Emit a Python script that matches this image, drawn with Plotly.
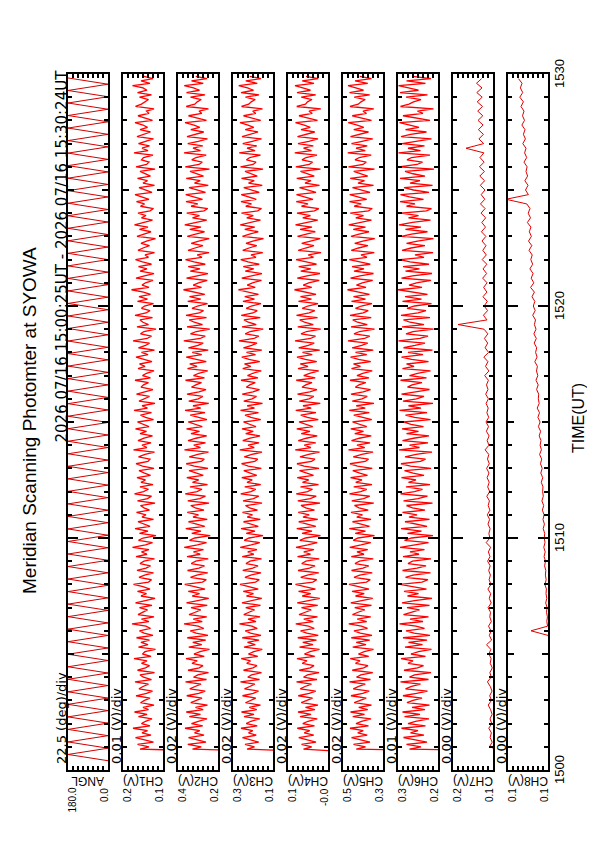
import plotly.graph_objects as go

# ---------------- data ----------------
T_START = 0.8   # minutes after 15:00 UT of first fast-channel sample (CH1-CH6)
DT = 0.1        # minutes between CH1-CH6 samples
T_START_SLOW = 0.8  # CH7, CH8 first sample
DT_SLOW = 0.2       # CH7, CH8 sample step

# scan angle turning points (minutes after 15:00) and angle (deg)
ANGLE_T = [0.40, 0.67, 0.94, 1.21, 1.48, 1.75, 2.02, 2.29, 2.56, 2.83, 3.10, 3.37, 3.64, 3.91,
           4.18, 4.45, 4.72, 4.99, 5.26, 5.53, 5.80, 6.07, 6.34, 6.61, 6.88, 7.15, 7.42, 7.69,
           7.96, 8.23, 8.50, 8.77, 9.04, 9.31, 9.58, 9.85, 10.12, 10.39, 10.66, 10.93, 11.20,
           11.47, 11.74, 12.01, 12.28, 12.55, 12.82, 13.09, 13.36, 13.63, 13.90, 14.17, 14.44,
           14.71, 14.98, 15.25, 15.52, 15.79, 16.06, 16.33, 16.60, 16.87, 17.14, 17.41, 17.68,
           17.95, 18.22, 18.49, 18.76, 19.03, 19.30, 19.57, 19.84, 20.11, 20.38, 20.65, 20.92,
           21.19, 21.46, 21.73, 22.00, 22.27, 22.54, 22.81, 23.08, 23.35, 23.62, 23.89, 24.16,
           24.43, 24.70, 24.97, 25.24, 25.51, 25.78, 26.05, 26.32, 26.59, 26.86, 27.13, 27.40,
           27.67, 27.94, 28.21, 28.48, 28.75, 29.02, 29.29, 29.56, 29.83]
ANGLE_DEG = [0, 180, 0, 180, 0, 180, 0, 180, 0, 180, 0, 180, 0, 180, 0, 180, 0, 180, 0, 180,
             0, 180, 0, 180, 0, 180, 0, 180, 0, 180, 0, 180, 0, 180, 0, 180, 0, 180, 0, 180,
             0, 180, 0, 180, 0, 180, 0, 180, 0, 180, 0, 180, 0, 180, 0, 180, 0, 180, 0, 180,
             0, 180, 0, 180, 0, 180, 0, 180, 0, 180, 0, 180, 0, 180, 0, 180, 0, 180, 0, 180,
             0, 180, 0, 180, 0, 180, 0, 180, 0, 180, 0, 180, 0, 180, 0, 180, 0, 180, 0, 180,
             0, 180, 0, 180, 0, 180, 0, 180, 0, 180]

# photometer channels, millivolts
CH1_MV = [0, 166, 148, 171, 139, 158, 175, 144, 162, 151, 180, 146, 163, 155, 142, 169, 152, 177, 149, 160,
          138, 165, 157, 146, 174, 153, 141, 168, 160, 149, 176, 143, 159, 166, 137, 171, 155, 147, 163, 152,
          178, 144, 161, 156, 135, 169, 150, 164, 147, 173, 140, 158, 167, 145, 154, 182, 148, 163, 138, 170,
          159, 151, 167, 142, 175, 156, 136, 164, 153, 171, 146, 160, 179, 149, 143, 168, 157, 139, 172, 154,
          145, 166, 158, 137, 174, 152, 163, 148, 181, 155, 141, 169, 160, 134, 167, 150, 176, 146, 157, 170,
          139, 162, 154, 173, 147, 158, 165, 136, 171, 151, 143, 177, 159, 149, 166, 140, 164, 155, 172, 145,
          157, 168, 138, 161, 174, 150, 146, 169, 156, 137, 179, 152, 162, 144, 170, 158, 141, 166, 153, 175,
          148, 160, 171, 139, 155, 165, 143, 178, 151, 162, 136, 168, 157, 147, 173, 154, 140, 164, 159, 149,
          176, 145, 161, 153, 138, 170, 156, 167, 142, 158, 174, 150, 163, 137, 169, 155, 147, 180, 152, 143,
          165, 158, 134, 172, 149, 160, 166, 141, 176, 154, 146, 163, 157, 139, 171, 151, 168, 145, 159, 183,
          148, 162, 155, 140, 174, 157, 138, 166, 152, 169, 143, 161, 175, 149, 156, 137, 170, 160, 147, 164,
          153, 135, 172, 158, 144, 167, 150, 177, 159, 141, 163, 154, 170, 146, 139, 165, 157, 173, 148, 161,
          176, 142, 155, 168, 137, 160, 151, 171, 145, 157, 166, 136, 174, 153, 148, 163, 159, 140, 178, 150,
          162, 147, 169, 155, 139, 172, 158, 145, 166, 151, 160, 176, 141, 157, 170, 148, 153, 138, 175, 163,
          156, 149, 167, 143, 171, 152, 160, 181, 146, 164, 140, 158]
CH2_MV = [0, 322, 287, 341, 268, 305, 338, 276, 314, 293, 352, 281, 326, 299, 264, 335, 290, 347, 279, 310,
          262, 329, 306, 284, 345, 297, 271, 333, 312, 288, 350, 266, 318, 301, 258, 340, 295, 280, 324, 303,
          348, 275, 316, 292, 254, 337, 285, 321, 269, 343, 260, 308, 331, 277, 299, 356, 283, 319, 265, 336,
          311, 289, 328, 263, 346, 300, 257, 323, 294, 339, 272, 314, 353, 282, 267, 330, 305, 261, 342, 296,
          274, 327, 309, 259, 344, 291, 318, 278, 355, 302, 266, 334, 313, 251, 325, 288, 349, 273, 307, 338,
          263, 320, 298, 343, 276, 311, 329, 256, 341, 293, 270, 351, 304, 284, 332, 262, 322, 297, 345, 279,
          306, 336, 260, 315, 347, 287, 275, 335, 301, 258, 354, 290, 317, 270, 340, 308, 265, 328, 294, 346,
          283, 313, 339, 264, 303, 331, 272, 352, 289, 320, 257, 337, 299, 281, 344, 296, 268, 326, 309, 286,
          350, 274, 318, 297, 261, 342, 304, 333, 267, 312, 347, 285, 323, 259, 338, 300, 279, 357, 291, 271,
          330, 307, 253, 344, 282, 315, 335, 266, 348, 295, 278, 324, 302, 262, 341, 289, 334, 273, 311, 358,
          286, 319, 298, 263, 346, 306, 260, 331, 292, 339, 271, 316, 350, 284, 303, 256, 340, 312, 280, 327,
          297, 255, 343, 310, 274, 333, 288, 353, 307, 265, 322, 294, 345, 276, 261, 328, 301, 348, 282, 317,
          349, 270, 304, 336, 259, 314, 291, 347, 278, 305, 332, 254, 351, 296, 283, 325, 308, 267, 356, 290,
          320, 281, 341, 299, 262, 344, 311, 277, 329, 293, 316, 352, 266, 302, 338, 285, 296, 258, 347, 313,
          303, 287, 330, 272, 346, 294, 318, 355, 279, 326, 264, 309]
CH3_MV = [0, 244, 214, 252, 197, 231, 262, 207, 238, 221, 268, 203, 247, 229, 193, 256, 216, 266, 205, 235,
          190, 250, 228, 209, 262, 219, 198, 254, 233, 213, 270, 194, 241, 226, 186, 258, 220, 204, 245, 230,
          267, 201, 238, 217, 183, 256, 211, 242, 196, 263, 188, 230, 251, 203, 224, 274, 208, 240, 192, 257,
          236, 214, 249, 190, 264, 226, 185, 246, 218, 259, 199, 237, 272, 210, 195, 252, 229, 188, 261, 221,
          200, 248, 232, 186, 263, 217, 241, 204, 271, 227, 193, 255, 236, 180, 247, 212, 268, 199, 230, 258,
          191, 243, 222, 262, 202, 234, 250, 184, 260, 218, 197, 269, 228, 209, 253, 189, 244, 223, 265, 205,
          231, 257, 187, 239, 266, 213, 201, 255, 225, 184, 273, 215, 240, 196, 261, 232, 192, 249, 219, 264,
          208, 237, 258, 189, 228, 252, 198, 270, 214, 243, 182, 257, 224, 206, 263, 220, 194, 247, 233, 211,
          268, 200, 242, 221, 187, 261, 229, 254, 193, 236, 265, 210, 246, 185, 258, 225, 204, 276, 216, 197,
          251, 232, 179, 264, 207, 239, 256, 191, 267, 220, 203, 247, 227, 188, 260, 214, 253, 198, 235, 278,
          211, 243, 222, 186, 265, 230, 184, 251, 217, 259, 195, 240, 269, 208, 228, 181, 261, 236, 205, 248,
          221, 178, 262, 234, 199, 253, 213, 271, 231, 190, 245, 219, 266, 201, 186, 249, 226, 268, 207, 241,
          267, 195, 229, 257, 183, 238, 215, 266, 203, 230, 252, 180, 270, 220, 208, 246, 233, 190, 275, 212,
          244, 205, 261, 223, 186, 264, 235, 200, 251, 217, 240, 272, 189, 226, 258, 209, 221, 182, 266, 237,
          227, 211, 250, 196, 268, 218, 242, 277, 203, 249, 188, 233]
CH4_MV = [-100, 58, 25, 66, 8, 44, 77, 17, 55, 33, 83, 14, 61, 40, 3, 72, 28, 80, 12, 50,
          0, 67, 47, 22, 79, 35, 9, 71, 52, 26, 86, 4, 58, 42, -4, 75, 31, 16, 63, 44,
          84, 13, 54, 32, -6, 74, 20, 61, 6, 81, -1, 45, 70, 15, 38, 89, 19, 57, 2, 76,
          51, 27, 66, 1, 83, 39, -7, 63, 29, 78, 10, 53, 90, 21, 5, 69, 43, -3, 80, 34,
          12, 65, 48, -5, 82, 30, 57, 16, 88, 41, 3, 73, 50, -10, 64, 24, 85, 9, 46, 77,
          1, 60, 35, 79, 14, 49, 68, -8, 81, 31, 7, 87, 42, 22, 70, -2, 62, 37, 83, 18,
          45, 74, -4, 56, 84, 26, 12, 72, 38, -6, 91, 28, 55, 9, 79, 47, 3, 67, 32, 85,
          21, 52, 76, -1, 43, 69, 8, 89, 27, 60, -9, 75, 36, 17, 82, 33, 4, 64, 49, 24,
          87, 11, 57, 34, -3, 80, 40, 71, 5, 51, 84, 23, 62, -7, 77, 39, 15, 92, 30, 10,
          68, 46, -11, 81, 19, 54, 73, 2, 86, 35, 13, 63, 41, 0, 78, 26, 70, 8, 48, 94,
          25, 59, 37, -5, 83, 44, -8, 69, 29, 77, 6, 53, 88, 18, 39, -12, 79, 50, 16, 65,
          33, -9, 82, 47, 11, 72, 24, 90, 46, 1, 61, 30, 84, 14, -3, 66, 40, 87, 20, 56,
          86, 8, 44, 74, -6, 52, 28, 85, 15, 43, 70, -10, 89, 35, 22, 64, 48, 4, 93, 26,
          58, 19, 80, 37, 0, 82, 51, 13, 68, 31, 55, 90, 2, 41, 76, 23, 36, -11, 85, 50,
          42, 24, 67, 9, 84, 30, 57, 92, 16, 63, -1, 48]
CH5_MV = [0, 447, 410, 458, 392, 433, 466, 403, 441, 419, 472, 398, 448, 426, 388, 461, 414, 470, 401, 437,
          386, 455, 433, 407, 468, 421, 395, 459, 437, 411, 474, 390, 446, 429, 381, 463, 417, 400, 450, 432,
          471, 397, 438, 415, 378, 461, 408, 447, 393, 467, 384, 431, 456, 402, 426, 477, 405, 443, 389, 462,
          440, 413, 453, 386, 469, 427, 381, 450, 415, 464, 396, 438, 476, 406, 391, 456, 433, 383, 466, 420,
          397, 452, 434, 379, 467, 416, 444, 401, 473, 428, 389, 459, 440, 374, 451, 410, 475, 394, 431, 462,
          388, 445, 422, 468, 399, 436, 454, 377, 465, 418, 393, 474, 429, 405, 457, 384, 449, 424, 470, 402,
          433, 461, 383, 442, 472, 411, 398, 459, 425, 380, 478, 413, 444, 392, 466, 435, 387, 453, 418, 469,
          405, 438, 462, 385, 428, 457, 395, 475, 411, 447, 376, 463, 424, 403, 468, 419, 390, 451, 436, 409,
          472, 396, 444, 421, 383, 466, 430, 458, 389, 438, 470, 405, 450, 379, 463, 425, 401, 480, 414, 393,
          456, 434, 374, 468, 403, 442, 461, 387, 472, 419, 399, 450, 427, 384, 466, 410, 458, 394, 437, 482,
          408, 446, 423, 381, 470, 432, 378, 456, 416, 464, 391, 441, 475, 404, 428, 375, 467, 438, 400, 453,
          421, 373, 468, 436, 396, 459, 410, 477, 433, 386, 449, 418, 471, 398, 383, 455, 427, 474, 405, 444,
          473, 392, 430, 462, 378, 440, 414, 471, 401, 431, 457, 374, 478, 420, 407, 452, 435, 387, 481, 411,
          448, 403, 466, 424, 381, 470, 437, 398, 457, 417, 443, 479, 386, 426, 463, 406, 420, 377, 472, 439,
          428, 411, 455, 393, 474, 418, 446, 480, 401, 452, 386, 433]
CH6_MV = [0, 297, 274, 303, 262, 288, 309, 268, 295, 280, 313, 265, 300, 285, 258, 307, 276, 311, 266, 292,
          257, 302, 290, 272, 310, 283, 261, 305, 293, 275, 315, 259, 297, 287, 254, 308, 281, 269, 300, 290,
          314, 265, 294, 279, 253, 306, 271, 299, 262, 310, 256, 288, 304, 267, 284, 317, 270, 296, 259, 309,
          293, 277, 302, 257, 312, 287, 252, 301, 279, 308, 263, 294, 316, 272, 260, 305, 290, 255, 311, 282,
          264, 300, 291, 254, 310, 278, 296, 267, 316, 286, 259, 307, 293, 250, 301, 273, 314, 262, 288, 306,
          257, 298, 282, 311, 266, 291, 303, 251, 309, 280, 261, 315, 287, 271, 304, 256, 299, 284, 313, 268,
          290, 307, 254, 295, 314, 275, 265, 306, 284, 252, 318, 277, 297, 260, 311, 289, 258, 303, 279, 312,
          269, 294, 309, 255, 287, 305, 262, 317, 274, 299, 250, 310, 283, 268, 313, 281, 257, 301, 292, 272,
          315, 263, 297, 281, 255, 311, 288, 303, 259, 293, 313, 270, 300, 251, 309, 286, 266, 319, 276, 260,
          304, 290, 249, 312, 268, 296, 309, 256, 314, 280, 264, 302, 287, 253, 311, 273, 306, 261, 292, 320,
          272, 298, 283, 254, 313, 291, 252, 305, 277, 310, 258, 296, 316, 268, 286, 250, 312, 294, 266, 303,
          281, 249, 313, 293, 261, 305, 274, 318, 291, 255, 299, 279, 314, 263, 253, 303, 286, 316, 269, 297,
          315, 258, 289, 308, 251, 296, 276, 316, 266, 290, 306, 248, 318, 282, 271, 302, 293, 256, 319, 275,
          300, 267, 312, 285, 253, 314, 295, 263, 305, 278, 297, 317, 256, 287, 310, 270, 281, 249, 315, 298,
          289, 274, 304, 261, 316, 279, 298, 319, 265, 303, 254, 291]
CH7_MV = [110.0, 123.5, 120.8, 122.9, 121.6, 124.2, 121.2, 123.0, 120.9, 122.4,
          124.8, 121.5, 123.3, 121.0, 122.7, 125.6, 121.8, 123.1, 120.7, 122.8,
          121.9, 124.0, 122.2, 126.5, 121.4, 123.6, 122.0, 124.5, 121.7, 123.2,
          122.5, 124.9, 121.8, 123.7, 122.3, 125.1, 122.0, 123.9, 122.6, 124.3,
          122.8, 125.4, 123.0, 124.6, 122.4, 126.8, 123.2, 124.1, 122.9, 125.0,
          123.4, 125.7, 123.1, 124.8, 123.6, 126.2, 123.3, 125.3, 123.8, 125.9,
          124.0, 126.4, 123.7, 125.5, 124.2, 127.9, 124.1, 125.8, 123.9, 126.6,
          124.5, 127.0, 124.3, 126.1, 124.8, 126.9, 124.6, 127.3, 125.0, 126.5,
          124.6, 128.3, 124.1, 127.5, 125.0, 129.2, 124.4, 127.9, 125.3, 128.6,
          125.1, 129.0, 155.0, 126.0, 129.6, 125.4, 128.8, 125.7, 130.0, 126.1,
          129.4, 125.9, 130.3, 126.4, 129.9, 126.2, 130.8, 126.7, 130.2, 127.0,
          131.0, 127.1, 131.6, 127.5, 131.2, 127.3, 132.0, 127.9, 132.5, 128.2,
          131.8, 128.0, 132.7, 128.4, 133.2, 128.6, 133.5, 128.9, 133.0, 129.1,
          147.0, 129.3, 134.1, 129.6, 134.6, 129.9, 135.0, 130.2, 135.3, 130.5,
          135.8, 130.8, 136.2, 131.0, 136.5, 131.4]
CH8_MV = [97.0, 97.5, 96.8, 97.3, 97.9, 97.1, 97.6, 97.2, 98.0, 97.4,
          97.8, 98.2, 97.5, 98.4, 97.9, 98.6, 98.1, 98.8, 98.3, 99.0,
          98.6, 99.2, 98.9, 99.5, 99.1, 99.8, 117.0, 100.4, 101.2, 100.6,
          101.5, 100.9, 102.3, 101.2, 102.0, 101.6, 103.1, 101.8, 102.6, 102.2,
          103.4, 102.5, 103.9, 102.8, 104.2, 103.0, 103.7, 103.3, 104.8, 103.6,
          105.0, 103.9, 105.6, 104.3, 106.1, 104.7, 105.4, 105.0, 106.7, 105.3,
          107.2, 105.8, 107.5, 106.3, 108.4, 106.6, 107.9, 107.0, 108.8, 107.4,
          109.6, 107.9, 110.1, 108.5, 110.8, 108.8, 109.7, 109.3, 111.4, 109.8,
          112.0, 110.2, 111.5, 110.6, 113.2, 110.9, 112.4, 111.3, 113.8, 111.7,
          114.1, 112.0, 113.6, 112.5, 115.3, 112.8, 114.7, 113.2, 116.0, 113.6,
          117.4, 114.2, 116.8, 114.9, 118.1, 115.3, 117.2, 115.8, 119.0, 116.2,
          119.5, 116.6, 118.7, 117.1, 120.6, 117.5, 119.8, 118.0, 121.2, 142.0,
          119.6, 122.5, 120.0, 123.1, 120.4, 122.0, 120.9, 124.0, 121.3, 123.4,
          122.0, 125.2, 122.6, 124.6, 123.0, 126.1, 123.5, 125.5, 124.0, 127.0,
          124.6, 128.2, 125.3, 127.6, 126.0, 129.5]

CHANNELS_MV = [CH1_MV, CH2_MV, CH3_MV, CH4_MV, CH5_MV, CH6_MV, CH7_MV, CH8_MV]

PANEL_NAMES = ["ANGL", "CH1(V)", "CH2(V)", "CH3(V)", "CH4(V)", "CH5(V)", "CH6(V)", "CH7(V)", "CH8(V)"]
DIV_LABELS = ["22.5 (deg)/div", "0.01 (V)/div", "0.02 (V)/div", "0.02 (V)/div", "0.02 (V)/div",
              "0.02 (V)/div", "0.01 (V)/div", "0.00 (V)/div", "0.00 (V)/div"]
RANGE_MIN = [0, 0.12, 0.22, 0.14, -0.04, 0.34, 0.24, 0.12, 0.10]
RANGE_MAX = [180, 0.20, 0.38, 0.30, 0.12, 0.50, 0.32, 0.16, 0.14]
DIVS = [22.5, 0.01, 0.02, 0.02, 0.02, 0.02, 0.01, 0.005, 0.005]
HIGH_LABELS = ["180.0", "0.2", "0.4", "0.3", "0.1", "0.5", "0.3", "0.2", "0.1"]
LOW_LABELS = ["0.0", "0.1", "0.2", "0.1", "-0.0", "0.3", "0.2", "0.1", "0.1"]
TIME_TICKS = [0, 10, 20, 30]
TIME_LABELS = ["1500", "1510", "1520", "1530"]
HALF_HOUR_MARKS = [5, 15, 25]
TITLE = "Meridian Scanning Photomter at SYOWA"
PERIOD = "2026 07/16 15:00:25UT - 2026 07/16 15:30:24UT"

# ---------------- layout geometry (pixels) ----------------
W, H = 595, 842
PANEL_LEFT = [60, 115, 170, 225, 280, 335, 390, 445, 500]
PANEL_W = 40
TOP_PX, BOT_PX = 66, 762
FONT = "Liberation Sans, Arial, Helvetica, sans-serif"
WIDE_FONT = "DejaVu Sans, Verdana, sans-serif"


def px(x):
    return x / W


def py(y):
    return 1 - y / H


fig = go.Figure()
layout = dict(
    width=W, height=H, margin=dict(l=0, r=0, t=0, b=0),
    paper_bgcolor="white", plot_bgcolor="white", showlegend=False,
    font=dict(family=FONT, color="black"),
)
annotations = []
shapes = []

for k in range(9):
    ax = "" if k == 0 else str(k + 1)
    if k == 0:
        xs, ys = ANGLE_DEG, ANGLE_T
        color, width = "#d00000", 1
    else:
        vals = CHANNELS_MV[k - 1]
        xs = [v / 1000 for v in vals]
        if k <= 6:
            ys = [T_START + DT * i for i in range(len(vals))]
            color, width = "#ff0000", 1.3
        else:
            ys = [T_START_SLOW + DT_SLOW * i for i in range(len(vals))]
            color, width = "#e00000", 1
    fig.add_trace(go.Scatter(x=xs, y=ys, mode="lines", xaxis="x" + ax, yaxis="y" + ax,
                             line=dict(color=color, width=width), hoverinfo="skip"))
    L = PANEL_LEFT[k]
    R = L + PANEL_W
    layout["xaxis" + ax] = dict(
        domain=[px(L), px(R)], anchor="y" + ax,
        range=[RANGE_MAX[k], RANGE_MIN[k]],
        showline=True, linecolor="black", linewidth=2, mirror="ticks",
        ticks="inside", ticklen=4, tickwidth=1.5, tickcolor="black",
        tick0=RANGE_MIN[k], dtick=DIVS[k],
        showticklabels=False, showgrid=False, zeroline=False, fixedrange=True,
    )
    layout["yaxis" + ax] = dict(
        domain=[py(BOT_PX), py(TOP_PX)], anchor="x" + ax,
        range=[0, 30],
        showline=True, linecolor="black", linewidth=2, mirror="ticks",
        ticks="inside", ticklen=10, tickwidth=2, tickcolor="black",
        tick0=0, dtick=10,
        minor=dict(ticks="inside", ticklen=4, tickwidth=1.5, tickcolor="black", dtick=1),
        showticklabels=False, showgrid=False, zeroline=False, fixedrange=True,
    )
    xr = ("x" if k == 0 else "x" + ax) + " domain"
    yr = "y" if k == 0 else "y" + ax
    for t in HALF_HOUR_MARKS:
        for x0, x1 in ((0, 6 / PANEL_W), (1, 1 - 6 / PANEL_W)):
            shapes.append(dict(type="line", xref=xr, yref=yr, x0=x0, x1=x1, y0=t, y1=t,
                               line=dict(color="black", width=2)))
    # per-division label
    annotations.append(dict(text=DIV_LABELS[k], x=px(L - 7), y=py(758), xref="paper", yref="paper",
                            xanchor="center", yanchor="bottom", textangle=-90, showarrow=False,
                            font=dict(size=13, family=WIDE_FONT)))
    # channel name (upside down)
    annotations.append(dict(text=PANEL_NAMES[k], x=px(L + PANEL_W / 2), y=py(764), xref="paper",
                            yref="paper", xanchor="center", yanchor="top", textangle=180,
                            showarrow=False, font=dict(size=12)))
    # range labels
    annotations.append(dict(text=HIGH_LABELS[k], x=px(L + 4), y=py(778), xref="paper", yref="paper",
                            xanchor="center", yanchor="top", textangle=-90, showarrow=False,
                            font=dict(size=10)))
    annotations.append(dict(text=LOW_LABELS[k], x=px(R - 4), y=py(778), xref="paper", yref="paper",
                            xanchor="center", yanchor="top", textangle=-90, showarrow=False,
                            font=dict(size=10)))

for t, lab in zip(TIME_TICKS, TIME_LABELS):
    annotations.append(dict(text=lab, x=px(551), y=t, xref="paper", yref="y9",
                            xanchor="center", yanchor="middle", textangle=-90, showarrow=False,
                            font=dict(size=13)))

annotations.append(dict(text="TIME(UT)", x=px(570), y=py(410), xref="paper", yref="paper",
                        xanchor="center", yanchor="middle", textangle=-90, showarrow=False,
                        font=dict(size=16)))
annotations.append(dict(text=TITLE, x=px(21), y=py(413), xref="paper", yref="paper",
                        xanchor="center", yanchor="middle", textangle=-90, showarrow=False,
                        font=dict(size=19)))
annotations.append(dict(text=PERIOD, x=px(53), y=py(60), xref="paper", yref="paper",
                        xanchor="center", yanchor="top", textangle=-90, showarrow=False,
                        font=dict(size=15, family=WIDE_FONT)))

layout["annotations"] = annotations
layout["shapes"] = shapes
fig.update_layout(**layout)
fig.write_html("out.html")
